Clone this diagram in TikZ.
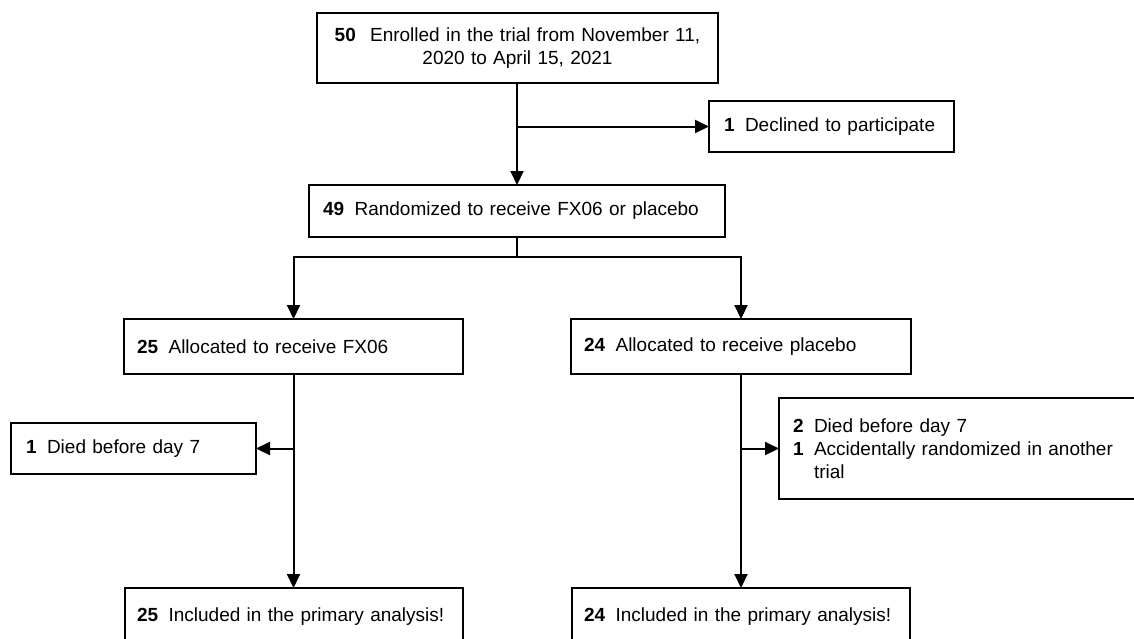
\documentclass[tikz,border=0pt]{standalone}
\usepackage{fontspec}
\setmainfont{Liberation Sans}
\usetikzlibrary{arrows.meta}
\newcommand\numgap{\hspace{0.55em}}
\begin{document}
\begin{tikzpicture}[x=1pt,y=-1pt,
  box/.style={draw, line width=2pt, rectangle, anchor=north west, inner ysep=0pt, outer sep=0pt,
    font=\fontsize{19}{23}\selectfont, align=left},
  arr/.style={line width=2pt, -{Triangle[length=14pt,width=13pt]}},
  ln/.style={line width=2pt}]
\useasboundingbox (0,0) rectangle (1134,638);
\fill[white] (0,0) rectangle (1134,638);
\clip (0,0) rectangle (1134,638);

\node[box, align=center, inner xsep=5pt, text width=391pt, minimum width=401pt, minimum height=70pt] (enr) at (317,13)
  {\textbf{50}\hspace{0.75em}Enrolled in the trial from November 11,\\ 2020 to April 15, 2021\hspace*{18pt}};
\node[box, inner xsep=15pt, text width=215pt, minimum width=245pt, minimum height=51pt] (decl) at (709,101)
  {\textbf{1}\numgap Declined to participate};
\node[box, inner xsep=14pt, text width=388pt, minimum width=416pt, minimum height=52pt] (rand) at (309,185)
  {\textbf{49}\numgap Randomized to receive FX06 or placebo};
\node[box, inner xsep=13pt, text width=313pt, minimum width=339pt, minimum height=55pt] (a25) at (124,319)
  {\textbf{25}\numgap Allocated to receive FX06};
\node[box, inner xsep=13pt, text width=314pt, minimum width=340pt, minimum height=55pt] (a24) at (571,319)
  {\textbf{24}\numgap Allocated to receive placebo};
\node[box, inner xsep=15pt, text width=215pt, minimum width=245pt, minimum height=51pt] (d1) at (11,423)
  {\textbf{1}\numgap Died before day 7};
\node[box, inner xsep=14pt, text width=372pt, minimum width=400pt, minimum height=101pt] (ex) at (779,398)
  {\textbf{2}\numgap Died before day 7\\
   \textbf{1}\numgap Accidentally randomized in another\\
   \phantom{\textbf{1}}\numgap trial};
\node[box, inner xsep=12pt, text width=314pt, minimum width=338pt, minimum height=58pt] (i25) at (125,588)
  {\textbf{25}\numgap Included in the primary analysis!};
\node[box, inner xsep=12pt, text width=314pt, minimum width=338pt, minimum height=58pt] (i24) at (572,588)
  {\textbf{24}\numgap Included in the primary analysis!};

\draw[arr] (enr.south -| rand.north) -- (rand.north);
\draw[arr] (rand.north |- decl.west) -- (decl.west);
\draw[ln] (rand.south) -- ++(0,20) coordinate (split);
\draw[arr] (split) -| (a25.north);
\draw[arr] (split) -| (a24.north);
\draw[arr] (a25.south) -- (a25.south |- i25.north);
\draw[arr] (a24.south) -- (a24.south |- i24.north);
\draw[arr] (a25.south |- d1.east) -- (d1.east);
\draw[arr] (a24.south |- ex.west) -- (ex.west);
\end{tikzpicture}
\end{document}
